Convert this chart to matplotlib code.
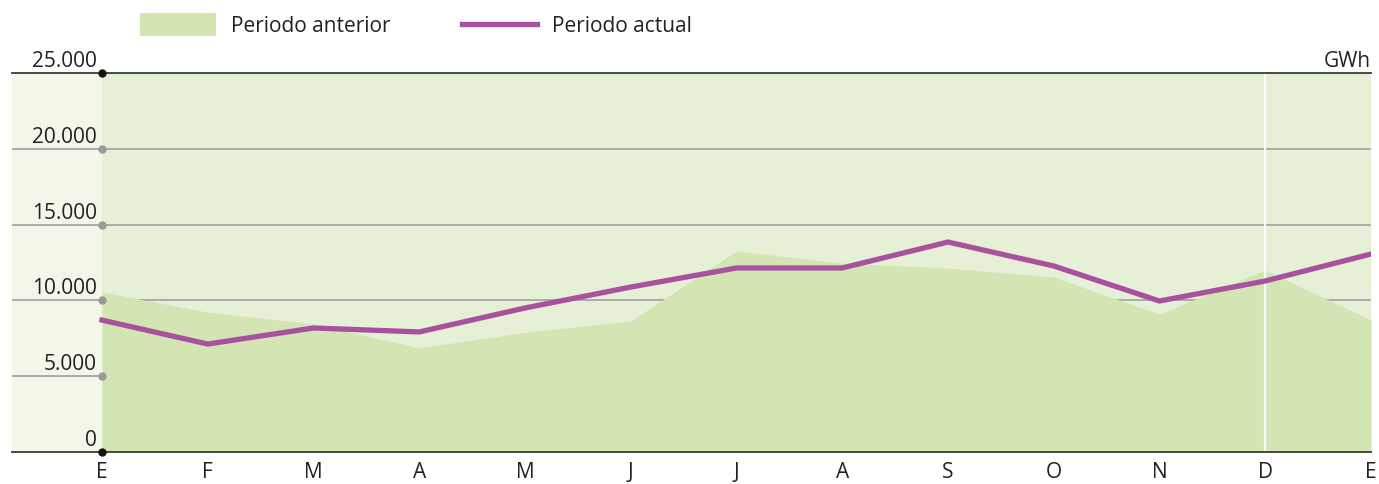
import matplotlib
matplotlib.use("Agg")
import matplotlib.pyplot as plt
from matplotlib.patches import Rectangle
from matplotlib.lines import Line2D

months = ["E", "F", "M", "A", "M", "J", "J", "A", "S", "O", "N", "D", "E"]
previous = [10550, 9230, 8450, 6860, 7900, 8640, 13260, 12450, 12140, 11540, 9100, 12000, 8700]
current = [8700, 7120, 8180, 7920, 9500, 10880, 12140, 12140, 13850, 12270, 9960, 11280, 13060]
yticks = [0, 5000, 10000, 15000, 20000, 25000]
ytick_labels = ["0", "5.000", "10.000", "15.000", "20.000", "25.000"]
unit = "GWh"
legend_labels = ["Periodo anterior", "Periodo actual"]

plt.rcParams['font.family'] = ["Open Sans", "DejaVu Sans"]
FS = 15
TXT = "#222222"

W, H = 1379, 484
fig = plt.figure(figsize=(W / 100, H / 100), dpi=100)
x0, x1 = 12, 1371
yb, yt = 452, 73
ax = fig.add_axes([x0 / W, 1 - yb / H, (x1 - x0) / W, (yb - yt) / H])

step = (1371 - 102) / 12
xleft = -(102 - 12) / step
ax.set_xlim(xleft, 12)
ax.set_ylim(0, 25000)

col_strip = "#f3f7ea"
col_bg = "#e6f0d6"
col_area = "#d4e5b4"
col_line = "#a8519f"

ax.axvspan(xleft, 0, color=col_strip, zorder=0, lw=0)
ax.axvspan(0, 12, color=col_bg, zorder=0, lw=0)

xs = list(range(len(months)))
for v in yticks[1:-1]:
    ax.axhline(v, color="#a0a0a0", lw=1.2, zorder=1)

ax.fill_between(xs, 0, previous, color=col_area, lw=0, zorder=2)
ax.axvline(11, color="white", lw=1.6, zorder=3)
ax.plot(xs, current, color=col_line, lw=3.8, zorder=4, solid_joinstyle="miter")

for v in (0, 25000):
    ax.axhline(v, color="#3a3a3a", lw=1.3, zorder=5, clip_on=False)

for v in yticks:
    c = "#111111" if v in (0, 25000) else "#9a9a9a"
    ax.plot([0], [v], "o", color=c, ms=5, zorder=6, clip_on=False)

for v, lab in zip(yticks, ytick_labels):
    ax.text(-0.05, v + 60, lab, ha="right", va="bottom", fontsize=FS, color=TXT, zorder=7)

ax.text(12, 25000 + 60, unit, ha="right", va="bottom", fontsize=FS, color=TXT)

for s in ax.spines.values():
    s.set_visible(False)
ax.set_yticks([])
ax.set_xticks(xs)
ax.set_xticklabels(months, fontsize=FS, color=TXT)
ax.tick_params(axis="x", length=0, pad=7)

# legend
fig.add_artist(Rectangle((140 / W, 1 - 36 / H), 76 / W, 23 / H, transform=fig.transFigure, color=col_area, lw=0))
fig.text(231 / W, 1 - 26 / H, legend_labels[0], ha="left", va="center", fontsize=FS, color=TXT)
fig.add_artist(Line2D([462 / W, 537 / W], [1 - 24 / H, 1 - 24 / H], transform=fig.transFigure, color=col_line, lw=3.8))
fig.text(552 / W, 1 - 26 / H, legend_labels[1], ha="left", va="center", fontsize=FS, color=TXT)

fig.savefig("out.png", dpi=100, facecolor="white")
